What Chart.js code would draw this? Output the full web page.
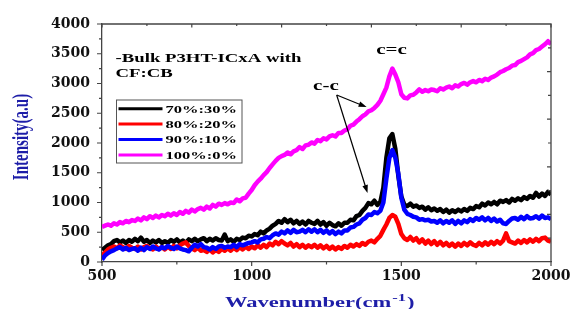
<!DOCTYPE html>
<html>
<head>
<meta charset="utf-8">
<script src="https://cdn.jsdelivr.net/npm/chart.js@4.4.0/dist/chart.umd.min.js"></script>
<style>
  html, body { margin: 0; padding: 0; background: #fff; }
  #wrap { width: 570px; height: 309px; }
</style>
</head>
<body>
<div id="wrap"><canvas id="raman" width="570" height="309"></canvas></div>
<script>
// Raman spectra, P3HT-ICxA in CF:CB
let wavenumber = [
  500, 510, 520, 530, 540, 550, 560, 570, 580, 590, 600,
  610, 620, 630, 640, 650, 660, 670, 680, 690, 700,
  710, 720, 730, 740, 750, 760, 770, 780, 790, 800,
  810, 820, 830, 840, 850, 860, 870, 880, 890, 900,
  910, 920, 930, 940, 950, 960, 970, 980, 990, 1000,
  1010, 1020, 1030, 1040, 1050, 1060, 1070, 1080, 1090, 1100,
  1110, 1120, 1130, 1140, 1150, 1160, 1170, 1180, 1190, 1200,
  1210, 1220, 1230, 1240, 1250, 1260, 1270, 1280, 1290, 1300,
  1310, 1320, 1330, 1340, 1350, 1360, 1370, 1380, 1390, 1400,
  1410, 1420, 1430, 1440, 1450, 1460, 1470, 1480, 1490, 1500,
  1510, 1520, 1530, 1540, 1550, 1560, 1570, 1580, 1590, 1600,
  1610, 1620, 1630, 1640, 1650, 1660, 1670, 1680, 1690, 1700,
  1710, 1720, 1730, 1740, 1750, 1760, 1770, 1780, 1790, 1800,
  1810, 1820, 1830, 1840, 1850, 1860, 1870, 1880, 1890, 1900,
  1910, 1920, 1930, 1940, 1950, 1960, 1970, 1980, 1990, 2000
];

let ratio70 = [
  200, 240, 280, 300, 350, 370, 330, 360, 320, 370, 340,
  390, 350, 410, 340, 370, 320, 360, 330, 370, 320,
  350, 320, 370, 340, 380, 330, 360, 320, 380, 350,
  390, 350, 380, 400, 350, 390, 360, 400, 370, 360,
  460, 350, 380, 340, 390, 370, 410, 400, 440, 430,
  470, 450, 510, 480, 530, 560, 610, 640, 690, 660,
  720, 670, 710, 650, 690, 640, 680, 630, 690, 660,
  640, 690, 630, 670, 610, 660, 620, 600, 650, 610,
  660, 660, 710, 700, 770, 790, 860, 910, 990, 970,
  1030, 960, 1010, 1250, 1750, 2080, 2150, 1900, 1450, 1100,
  960, 940, 980, 930, 950, 910, 930, 880, 920, 870,
  900, 860, 890, 840, 880, 830, 870, 840, 880, 850,
  890, 860, 910, 890, 940, 920, 980, 950, 1000, 970,
  1010, 970, 1030, 1010, 1040, 1000, 1060, 1030, 1070, 1040,
  1090, 1060, 1110, 1080, 1160, 1100, 1150, 1110, 1180, 1130
];

let ratio80 = [
  110, 160, 210, 240, 260, 230, 280, 250, 220, 270, 240,
  220, 260, 210, 250, 270, 230, 210, 260, 220, 250,
  210, 260, 220, 270, 230, 280, 310, 330, 270, 230,
  200, 240, 190, 200, 170, 210, 160, 200, 170, 220,
  190, 230, 190, 240, 200, 250, 210, 260, 220, 260,
  230, 280, 240, 290, 250, 310, 280, 340, 300, 350,
  310, 280, 320, 260, 300, 250, 290, 240, 280, 250,
  290, 240, 280, 230, 270, 220, 260, 210, 250, 220,
  270, 240, 290, 260, 300, 270, 320, 290, 340, 360,
  330, 390, 440, 540, 630, 740, 790, 760, 640, 470,
  400, 370, 420, 360, 400, 330, 380, 310, 360, 300,
  350, 290, 340, 280, 320, 270, 310, 260, 310, 270,
  320, 280, 330, 290, 270, 320, 280, 330, 290, 340,
  300, 350, 310, 360, 480, 350, 330, 310, 360, 320,
  370, 330, 380, 340, 390, 350, 400, 410, 360, 340
];

let ratio90 = [
  40, 110, 150, 180, 200, 230, 250, 210, 240, 200, 220,
  230, 190, 240, 200, 250, 220, 260, 230, 210, 250,
  230, 270, 240, 220, 260, 230, 210, 200, 180, 240,
  290, 260, 300, 250, 240, 210, 250, 220, 260, 270,
  240, 260, 250, 290, 250, 300, 280, 300, 320, 330,
  350, 330, 380, 390, 420, 400, 450, 480, 460, 510,
  480, 530, 490, 540, 500, 510, 540, 500, 550, 510,
  550, 500, 540, 490, 530, 480, 520, 470, 510, 480,
  530, 530, 580, 590, 630, 650, 710, 740, 800, 790,
  840, 820, 860, 1000, 1400, 1750, 1880, 1750, 1480, 1080,
  880, 810, 790, 760, 750, 710, 720, 700, 710, 680,
  690, 660, 700, 650, 690, 660, 700, 640, 690, 650,
  700, 670, 720, 690, 740, 710, 750, 700, 740, 690,
  730, 680, 710, 650, 640, 690, 730, 740, 710, 760,
  720, 770, 730, 740, 770, 730, 780, 740, 750, 720
];

let ratio100 = [
  590, 610, 630, 610, 650, 630, 670, 650, 690, 670, 705,
  690, 730, 700, 750, 720, 770, 740, 780, 750, 790,
  770, 810, 780, 820, 790, 840, 810, 860, 830, 880,
  850, 890, 910, 880, 930, 900, 960, 930, 980, 960,
  990, 970, 1000, 990, 1050, 1020, 1070, 1080, 1150, 1210,
  1290, 1350, 1400, 1460, 1510, 1580, 1640, 1700, 1750, 1780,
  1800, 1840, 1810, 1860, 1880, 1930, 1900, 1960, 1970, 2010,
  1990, 2050, 2030, 2080, 2060, 2110, 2130, 2110, 2170, 2170,
  2210, 2230, 2290, 2310, 2360, 2400, 2450, 2480, 2530, 2550,
  2590, 2640, 2710, 2820, 2930, 3120, 3250, 3150, 3020, 2820,
  2760, 2750, 2800, 2810, 2850, 2900, 2860, 2890, 2870, 2900,
  2890, 2870, 2920, 2900, 2930, 2950, 2920, 2970, 2950, 2990,
  3010, 2980, 3020, 3040, 3020, 3060, 3040, 3080, 3060, 3100,
  3120, 3150, 3190, 3210, 3240, 3260, 3300, 3310, 3360, 3380,
  3410, 3440, 3490, 3510, 3560, 3580, 3620, 3660, 3710, 3660
];

let seriesNames = ['70%:30%', '80%:20%', '90%:10%', '100%:0%'];
let seriesColors = ['#000000', '#ff0000', '#0000ff', '#ff00ff'];
let seriesValues = [ratio70, ratio80, ratio90, ratio100];
let drawOrder = [4, 3, 2, 1];

let xTicks = [500, 1000, 1500, 2000];
let yTicks = [0, 500, 1000, 1500, 2000, 2500, 3000, 3500, 4000];

let titleBlue = '#1e1ea8';
let serif = '"Liberation Serif", "Times New Roman", serif';
let stretch = 1.5;

function pairUp(xs, ys) {
    return xs.map((x, i) => ({ x: x, y: ys[i] }));
}

// text drawn a bit wider, like the original figure
function wideText(ctx, txt, x, y, size, color, align) {
    ctx.save();
    ctx.font = 'bold ' + size + 'px ' + serif;
    ctx.fillStyle = color;
    ctx.textBaseline = 'alphabetic';
    let w = ctx.measureText(txt).width * stretch;
    let left = x;
    if (align === 'center') left = x - w / 2;
    ctx.translate(left, y);
    ctx.scale(stretch, 1);
    ctx.textAlign = 'left';
    ctx.fillText(txt, 0, 0);
    ctx.restore();
    return w;
}

function arrow(ctx, x1, y1, x2, y2) {
    let ang = Math.atan2(y2 - y1, x2 - x1);
    ctx.beginPath();
    ctx.moveTo(x1, y1);
    ctx.lineTo(x2 - 5 * Math.cos(ang), y2 - 5 * Math.sin(ang));
    ctx.stroke();
    ctx.beginPath();
    ctx.moveTo(x2, y2);
    ctx.lineTo(x2 - 8 * Math.cos(ang) + 2.8 * Math.sin(ang), y2 - 8 * Math.sin(ang) - 2.8 * Math.cos(ang));
    ctx.lineTo(x2 - 8 * Math.cos(ang) - 2.8 * Math.sin(ang), y2 - 8 * Math.sin(ang) + 2.8 * Math.cos(ang));
    ctx.closePath();
    ctx.fill();
}

let decorations = {
    id: 'decorations',
    afterDatasetsDraw(chart) {
        let ctx = chart.ctx;
        let a = chart.chartArea;
        let xs = chart.scales.x;
        let ys = chart.scales.y;

        ctx.save();
        ctx.strokeStyle = '#444';
        ctx.lineWidth = 1.3;
        // top and right frame
        ctx.beginPath();
        ctx.moveTo(a.left, a.top);
        ctx.lineTo(a.right, a.top);
        ctx.lineTo(a.right, a.bottom);
        ctx.stroke();

        ctx.lineWidth = 1.2;
        ctx.beginPath();
        // left axis ticks, outward
        for (let v = 0; v <= 4000; v += 250) {
            let py = ys.getPixelForValue(v);
            let len = v % 500 === 0 ? 5 : 3;
            ctx.moveTo(a.left - len, py);
            ctx.lineTo(a.left, py);
        }
        // bottom axis ticks, outward
        for (let v = 500; v <= 2000; v += 250) {
            let px = xs.getPixelForValue(v);
            let len = v % 500 === 0 ? 4 : 2.5;
            ctx.moveTo(px, a.bottom);
            ctx.lineTo(px, a.bottom + len);
        }
        // top axis ticks, inward
        for (let v = 500; v <= 2000; v += 150) {
            let px = xs.getPixelForValue(v);
            let len = (v - 500) % 300 === 0 ? 3.5 : 2;
            ctx.moveTo(px, a.top);
            ctx.lineTo(px, a.top + len);
        }
        // right axis ticks, inward
        for (let v = 400; v < 4000; v += 400) {
            let py = ys.getPixelForValue(v);
            let len = v % 800 === 0 ? 4 : 3;
            ctx.moveTo(a.right, py);
            ctx.lineTo(a.right - len, py);
        }
        ctx.stroke();

        // legend box
        let bx = a.left + 14.5, by = 100, bw = 125.5, bh = 63;
        ctx.strokeStyle = '#555';
        ctx.lineWidth = 1;
        ctx.strokeRect(bx, by, bw, bh);
        seriesNames.forEach((name, i) => {
            let ly = by + 8.7 + i * 15.4;
            ctx.strokeStyle = seriesColors[i];
            ctx.lineWidth = 3;
            ctx.beginPath();
            ctx.moveTo(bx + 2, ly);
            ctx.lineTo(bx + 46, ly);
            ctx.stroke();
            wideText(ctx, name, bx + 49, ly + 3.8, 11, '#000', 'left');
        });

        // sample description
        wideText(ctx, '-Bulk P3HT-ICxA with', a.left + 13.5, 61.5, 12.5, '#000', 'left');
        wideText(ctx, 'CF:CB', a.left + 13.5, 77, 12.5, '#000', 'left');

        // peak labels and arrows
        wideText(ctx, 'c=c', xs.getPixelForValue(1467), ys.getPixelForValue(3562) + 4, 14, '#000', 'center');
        wideText(ctx, 'c-c', xs.getPixelForValue(1248), ys.getPixelForValue(2957) + 4, 14, '#000', 'center');
        ctx.strokeStyle = '#000';
        ctx.fillStyle = '#000';
        ctx.lineWidth = 1.2;
        let sx = xs.getPixelForValue(1284), sy = ys.getPixelForValue(2806);
        arrow(ctx, sx, sy, xs.getPixelForValue(1384), ys.getPixelForValue(2604));
        arrow(ctx, sx, sy, xs.getPixelForValue(1387), ys.getPixelForValue(1160));

        // axis titles
        let tx = 225, tb = 307;
        tx += wideText(ctx, 'Wavenumber(cm', tx, tb, 15, titleBlue, 'left');
        tx += wideText(ctx, '-1', tx + 1, tb - 6, 11, titleBlue, 'left') + 1;
        wideText(ctx, ')', tx + 1, tb, 15, titleBlue, 'left');

        ctx.save();
        ctx.translate(28, 137);
        ctx.rotate(-Math.PI / 2);
        ctx.scale(1, stretch);
        ctx.font = 'bold 15px ' + serif;
        ctx.fillStyle = titleBlue;
        ctx.textAlign = 'center';
        ctx.textBaseline = 'alphabetic';
        ctx.fillText('Intensity(a.u)', 0, 0);
        ctx.restore();

        ctx.restore();
    }
};

let tickFont = { family: '"DejaVu Serif", serif', size: 14, weight: 'bold' };

function noOverhang(s) {
    s.paddingLeft = 0;
    s.paddingRight = 0;
    s.paddingTop = 0;
    s.paddingBottom = 0;
}

let chart = new Chart(document.getElementById('raman').getContext('2d'), {
    type: 'line',
    data: {
        datasets: seriesValues.map((vals, i) => ({
            label: seriesNames[i],
            data: pairUp(wavenumber, vals),
            borderColor: seriesColors[i],
            backgroundColor: seriesColors[i],
            borderWidth: 4.5,
            borderJoinStyle: 'round',
            pointRadius: 0,
            tension: 0,
            fill: false,
            order: drawOrder[i]
        }))
    },
    options: {
        responsive: false,
        animation: false,
        devicePixelRatio: 1,
        layout: { padding: { top: 24, right: 19, left: 0, bottom: 0 } },
        plugins: {
            legend: { display: false },
            tooltip: { enabled: false }
        },
        scales: {
            x: {
                type: 'linear',
                min: 500,
                max: 2000,
                afterBuildTicks: (s) => { s.ticks = xTicks.map(v => ({ value: v })); },
                afterFit: (s) => { s.height = 47; noOverhang(s); },
                grid: { display: false, drawTicks: false },
                border: { display: true, color: '#444', width: 1.3 },
                ticks: { font: tickFont, color: '#111', padding: 6, maxRotation: 0, callback: (v) => String(v) }
            },
            y: {
                min: 0,
                max: 4000,
                afterBuildTicks: (s) => { s.ticks = yTicks.map(v => ({ value: v })); },
                afterFit: (s) => { s.width = 102; noOverhang(s); },
                grid: { display: false, drawTicks: false },
                border: { display: true, color: '#444', width: 1.3 },
                ticks: { font: tickFont, color: '#111', padding: 12, callback: (v) => String(v) }
            }
        }
    },
    plugins: [decorations]
});
</script>
</body>
</html>
